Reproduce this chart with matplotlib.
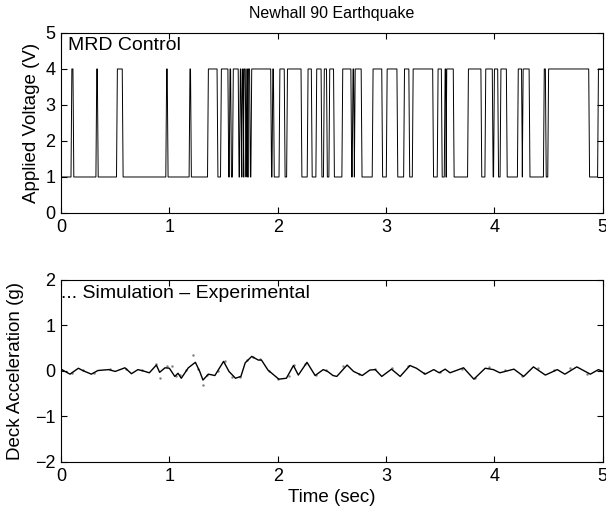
import numpy as np
import matplotlib
matplotlib.use('Agg')
from matplotlib import pyplot as plt

plt.rcParams['font.family'] = ['Liberation Sans', 'DejaVu Sans']
plt.rcParams['font.size'] = 13.5

# Tiempos de conmutacion del voltaje (inicio, fin) en que el MRD esta a 4 V
v_alto = 4.0
v_bajo = 1.0
t_on = [0.10, 0.33, 0.52, 0.975, 1.19, 1.36, 1.48, 1.56, 1.59, 1.655, 1.675,
        1.69, 1.715, 1.73, 1.76, 1.955, 2.02, 2.09, 2.28, 2.36, 2.43, 2.48,
        2.60, 2.695, 2.715, 2.88, 3.01, 3.17, 3.25, 3.48, 3.545, 3.56, 3.76,
        3.92, 4.00, 4.06, 4.22, 4.265, 4.46, 4.50, 4.96]
t_off = [0.11, 0.335, 0.565, 0.98, 1.195, 1.44, 1.54, 1.565, 1.635, 1.66, 1.68,
         1.70, 1.72, 1.74, 1.935, 1.96, 2.06, 2.215, 2.31, 2.40, 2.45, 2.515,
         2.675, 2.70, 2.77, 2.96, 3.10, 3.21, 3.43, 3.51, 3.55, 3.62, 3.875,
         3.98, 4.03, 4.11, 4.25, 4.32, 4.47, 4.87, 5.0]

# Aceleracion de la cubierta (g): simulacion
t_sim = [0.0, 0.037, 0.083, 0.16, 0.2, 0.28, 0.34, 0.44, 0.5, 0.59, 0.65, 0.71,
         0.76, 0.815, 0.88, 0.91, 0.96, 1.0, 1.05, 1.08, 1.11, 1.175, 1.24, 1.28,
         1.31, 1.36, 1.42, 1.50, 1.55, 1.61, 1.66, 1.70, 1.76, 1.82, 1.85, 1.91,
         2.01, 2.08, 2.145, 2.19, 2.27, 2.345, 2.42, 2.46, 2.51, 2.545, 2.64,
         2.70, 2.78, 2.85, 2.9, 2.96, 3.05, 3.13, 3.22, 3.28, 3.36, 3.44, 3.49,
         3.545, 3.59, 3.715, 3.81, 3.915, 3.99, 4.05, 4.18, 4.27, 4.36, 4.47,
         4.58, 4.65, 4.76, 4.885, 4.96, 5.0]
a_sim = [0.04, -0.01, -0.07, 0.06, 0.01, -0.07, 0.01, 0.03, -0.01, 0.07, -0.06,
         0.03, 0.0, -0.04, 0.13, -0.03, 0.07, 0.06, -0.12, -0.05, -0.16, 0.07,
         0.19, -0.01, -0.20, -0.07, -0.10, 0.21, -0.01, -0.16, -0.12, 0.18, 0.32,
         0.24, 0.24, 0.02, -0.18, -0.16, 0.12, -0.09, 0.19, -0.10, 0.03, -0.01,
         -0.10, -0.12, 0.13, -0.01, -0.10, 0.02, 0.03, -0.12, 0.04, -0.12, 0.12,
         0.06, -0.07, 0.03, -0.04, 0.04, -0.04, 0.07, -0.18, 0.06, 0.03, -0.04,
         0.04, -0.12, 0.09, -0.09, 0.03, -0.07, 0.09, -0.07, 0.03, -0.01]

# Aceleracion experimental (puntos grises dispersos)
t_exp = [0.0, 0.1, 0.2, 0.3, 0.45, 0.6, 0.75, 0.88, 0.91, 0.98, 1.02, 1.06,
         1.10, 1.15, 1.22, 1.26, 1.31, 1.35, 1.45, 1.51, 1.58, 1.65, 1.72, 1.77,
         1.84, 1.92, 2.0, 2.1, 2.15, 2.25, 2.35, 2.45, 2.6, 2.75, 2.9, 3.05,
         3.2, 3.35, 3.5, 3.7, 3.82, 3.95, 4.1, 4.25, 4.4, 4.55, 4.7, 4.85, 5.0]
a_exp = [0.03, -0.05, 0.02, -0.05, 0.04, 0.05, 0.02, 0.15, -0.16, 0.10, 0.12,
         -0.10, -0.08, 0.02, 0.35, 0.05, -0.30, -0.09, 0.0, 0.23, -0.14, -0.14,
         0.25, 0.30, 0.26, 0.0, -0.17, -0.10, 0.14, 0.15, -0.08, 0.02, 0.10,
         -0.06, 0.05, 0.06, 0.12, -0.04, -0.02, 0.05, -0.15, 0.08, 0.02, -0.10,
         0.06, 0.02, 0.07, -0.06, 0.0]

# Construir la senal escalonada con rampas cortas
rampa = 0.008
tv = [0.0]
vv = [v_bajo]
for a, b in zip(t_on, t_off):
    tv += [a - rampa, a, b, min(b + rampa, 5.0)]
    vv += [v_bajo, v_alto, v_alto, v_bajo if b < 5.0 else v_alto]

fig = plt.figure(figsize=(6.06, 5.12), dpi=100)

ax1 = fig.add_axes([0.1007, 0.584, 0.894, 0.3516])
ax1.plot(tv, vv, color='black', linewidth=0.7)
ax1.set_xlim(0, 5)
ax1.set_ylim(0, 5)
ax1.set_yticks([0, 1, 2, 3, 4, 5])
ax1.set_xticks([0, 1, 2, 3, 4, 5])
ax1.set_ylabel('Applied Voltage (V)', labelpad=4)
ax1.set_title('Newhall 90 Earthquake', fontsize=11.5, pad=11)
ax1.text(0.013, 0.975, 'MRD Control', transform=ax1.transAxes, va='top', ha='left',
         fontsize=14)

ax2 = fig.add_axes([0.1007, 0.0977, 0.894, 0.3555])
ax2.plot(t_exp, a_exp, linestyle='none', marker='.', markersize=1.5, color='gray')
ax2.plot(t_sim, a_sim, color='black', linewidth=1.0)
ax2.set_xlim(0, 5)
ax2.set_ylim(-2, 2)
ax2.set_yticks([-2, -1, 0, 1, 2])
ax2.set_xticks([0, 1, 2, 3, 4, 5])
ax2.set_ylabel('Deck Acceleration (g)', labelpad=8)
ax2.set_xlabel('Time (sec)', labelpad=3)
ax2.text(0.0, 0.975, '... Simulation \u2013 Experimental', transform=ax2.transAxes,
         va='top', ha='left', fontsize=14)

for ax in (ax1, ax2):
    ax.tick_params(direction='in', top=True, right=True, length=4, labelsize=13,
                   pad=4)
    for s in ax.spines.values():
        s.set_linewidth(0.8)

fig.savefig('out.png', dpi=100)
